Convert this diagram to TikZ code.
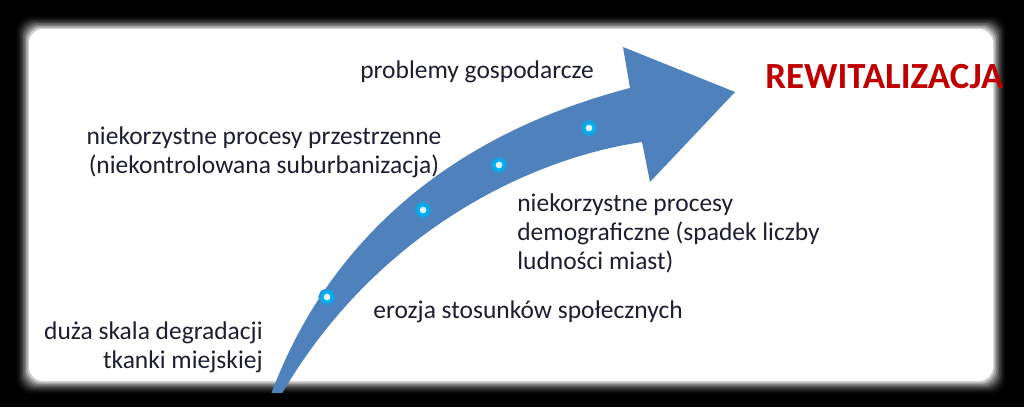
\documentclass[tikz,border=0pt]{standalone}
\usepackage{fontspec}
\setmainfont{Carlito}
\usepackage{tikz}
\usetikzlibrary{shapes,arrows.meta,calc}
\definecolor{arrowblue}{RGB}{79,129,189}
\definecolor{dotcyan}{RGB}{0,176,240}
\definecolor{dotcore}{RGB}{228,246,252}
\definecolor{txtdark}{RGB}{30,30,50}
\definecolor{rewired}{RGB}{192,0,0}

\begin{document}
\begin{tikzpicture}[x=0.02cm,y=-0.02cm,
        cause/.style={text=txtdark,font=\fontsize{14.5}{16.5}\selectfont,inner sep=0pt},
        stage/.style={circle,fill=dotcore,draw=dotcyan,line width=1.6pt,inner sep=0pt,minimum size=0.2cm,
            preaction={draw=dotcyan!45!arrowblue,line width=4pt}}]
        % Frame with soft edge
        \fill[black] (0,0) rectangle (1024,407);
        \foreach \i in {1,...,10}{
            \pgfmathsetmacro\shade{\i*\i}
            \fill[white!\shade!black,rounded corners=8] (14+1.5*\i,14+1.5*\i) rectangle (1008-1.5*\i,396-1.5*\i);
        }
        
        % Curved arrow
        \begin{scope}
        \clip (14,14) rectangle (1010,392);
        \fill[arrowblue] (270,397) .. controls (320,260) and (430,140) .. (630,88) -- (623,47) -- (735,92) -- (650,182) -- (642,142) .. controls (520,160) and (370,240) .. (280,397) -- cycle;
        \end{scope}
        
        % Stages on the arrow
        \node[stage] (s1) at (327,297) {};
        \node[stage] (s2) at (423,210) {};
        \node[stage] (s3) at (499,165) {};
        \node[stage] (s4) at (589,128) {};
        
        % Labels
        \node[cause,anchor=east,align=right] (degr) at (263,347) {duża skala degradacji\\tkanki miejskiej};
        \node[cause,anchor=west] (eroz) at (373,312) {erozja stosunków społecznych};
        \node[cause,anchor=west,align=left] (demo) at (517,233) {niekorzystne procesy\\demograficzne (spadek liczby\\ludności miast)};
        \node[cause,align=center] (przes) at (264,152) {niekorzystne procesy przestrzenne\\(niekontrolowana suburbanizacja)};
        \node[cause,anchor=west] (gosp) at (360,72) {problemy gospodarcze};
        \node[anchor=west,inner sep=0pt,text=rewired,font=\fontsize{21}{24}\selectfont\bfseries] (rewit) at (765,77) {REWITALIZACJA};
\end{tikzpicture}
\end{document}
